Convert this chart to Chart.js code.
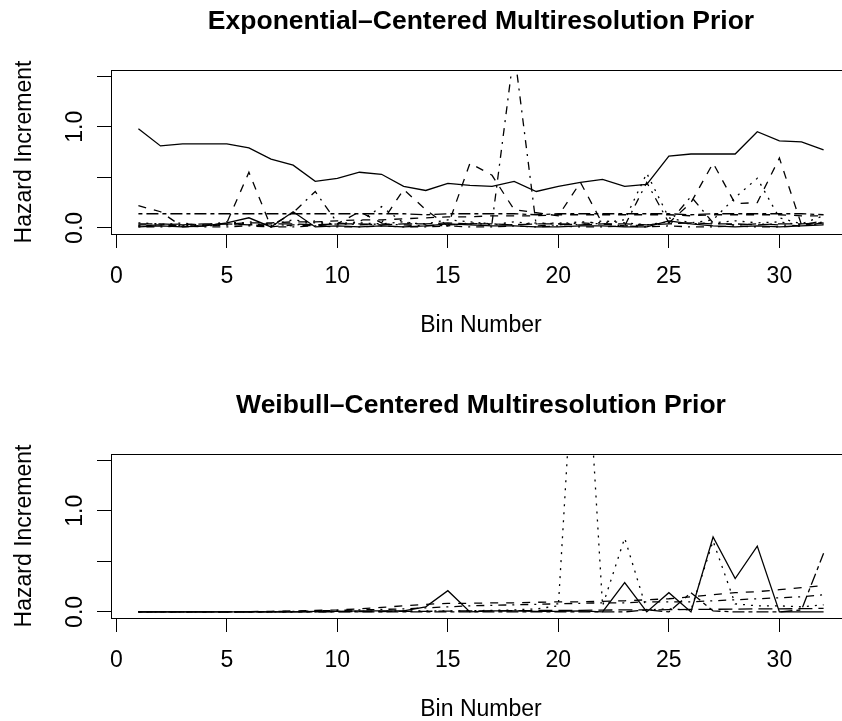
<!DOCTYPE html>
<html>
<head>
<meta charset="utf-8">
<script src="https://cdn.jsdelivr.net/npm/chart.js@4.4.1/dist/chart.umd.min.js"></script>
<style>
    html, body { margin: 0; padding: 0; background: #fff; overflow: hidden; }
    .panel { position: relative; width: 852px; }
    #expPanel { height: 384px; }
    #weibPanel { height: 339px; }
</style>
</head>
<body>
<div class="panel" id="expPanel"><canvas id="expChart"></canvas></div>
<div class="panel" id="weibPanel"><canvas id="weibChart"></canvas></div>
<script>
// Bin numbers along the x axis
const binNumbers = [1, 2, 3, 4, 5, 6, 7, 8, 9, 10, 11, 12, 13, 14, 15, 16,
    17, 18, 19, 20, 21, 22, 23, 24, 25, 26, 27, 28, 29, 30, 31, 32];

const xTickValues = [0, 5, 10, 15, 20, 25, 30];
const yTickValues = [0, 0.5, 1, 1.5];
const yTickLabels = ['0.0', '', '1.0', ''];

// Exponential-centered prior: hazard increment draws per bin
const expSolidHigh = [0.98, 0.81, 0.83, 0.83, 0.83, 0.79, 0.68, 0.62, 0.46, 0.49, 0.55, 0.53, 0.41, 0.37, 0.44, 0.42,
    0.41, 0.46, 0.36, 0.41, 0.45, 0.48, 0.41, 0.43, 0.71, 0.73, 0.73, 0.73, 0.95, 0.86, 0.85, 0.77];
const expDashed = [0.22, 0.16, 0.01, 0.02, 0.05, 0.55, 0.01, 0.03, 0.02, 0.04, 0.16, 0.05, 0.38, 0.18, 0.02, 0.64,
    0.52, 0.18, 0.15, 0.12, 0.45, 0.04, 0.02, 0.03, 0.05, 0.25, 0.64, 0.24, 0.25, 0.69, 0.03, 0.07];
const expDotted = [0.05, 0.04, 0.02, 0.03, 0.06, 0.04, 0.03, 0.08, 0.05, 0.04, 0.06, 0.21, 0.05, 0.04, 0.08, 0.06,
    0.04, 0.03, 0.05, 0.04, 0.06, 0.05, 0.08, 0.54, 0.10, 0.05, 0.08, 0.30, 0.49, 0.10, 0.04, 0.12];
const expDotDash = [0.02, 0.03, 0.02, 0.02, 0.03, 0.03, 0.02, 0.15, 0.36, 0.05, 0.03, 0.04, 0.03, 0.02, 0.03, 0.04,
    0.05, 1.75, 0.02, 0.03, 0.05, 0.04, 0.02, 0.45, 0.05, 0.31, 0.05, 0.03, 0.04, 0.03, 0.02, 0.05];
const expLongDash = [0.04, 0.04, 0.03, 0.04, 0.04, 0.03, 0.04, 0.04, 0.03, 0.04, 0.04, 0.03, 0.04, 0.04, 0.05, 0.04,
    0.04, 0.03, 0.04, 0.04, 0.03, 0.04, 0.04, 0.03, 0.04, 0.05, 0.04, 0.04, 0.03, 0.04, 0.04, 0.05];
const expTwoDash = [0.14, 0.14, 0.14, 0.14, 0.14, 0.14, 0.14, 0.14, 0.14, 0.14, 0.14, 0.14, 0.14, 0.13, 0.14, 0.14,
    0.14, 0.14, 0.13, 0.14, 0.14, 0.14, 0.14, 0.14, 0.14, 0.13, 0.14, 0.14, 0.14, 0.14, 0.14, 0.13];
const expSolidLow = [0.01, 0.02, 0.01, 0.02, 0.05, 0.10, 0.01, 0.16, 0.01, 0.02, 0.01, 0.02, 0.01, 0.02, 0.04, 0.03,
    0.02, 0.02, 0.01, 0.01, 0.02, 0.02, 0.01, 0.01, 0.07, 0.04, 0.02, 0.01, 0.02, 0.01, 0.02, 0.03];
const expDashedFlat = [0.03, 0.03, 0.04, 0.03, 0.04, 0.05, 0.05, 0.06, 0.06, 0.07, 0.08, 0.08, 0.09, 0.10, 0.11, 0.11,
    0.12, 0.12, 0.12, 0.13, 0.13, 0.13, 0.13, 0.13, 0.13, 0.12, 0.13, 0.13, 0.13, 0.13, 0.12, 0.12];
const expDottedLow = [0.02, 0.03, 0.05, 0.02, 0.03, 0.06, 0.04, 0.02, 0.07, 0.03, 0.05, 0.04, 0.06, 0.03, 0.02, 0.05,
    0.03, 0.06, 0.04, 0.05, 0.03, 0.07, 0.05, 0.03, 0.06, 0.04, 0.05, 0.07, 0.05, 0.06, 0.03, 0.04];
const expDotDashLow = [0.01, 0.01, 0.02, 0.01, 0.01, 0.02, 0.01, 0.01, 0.02, 0.01, 0.01, 0.02, 0.01, 0.01, 0.02, 0.01,
    0.01, 0.02, 0.01, 0.02, 0.01, 0.01, 0.02, 0.01, 0.02, 0.01, 0.01, 0.02, 0.01, 0.01, 0.02, 0.06];

// Weibull-centered prior: hazard increment draws per bin
const weibSolid = [0, 0, 0, 0, 0, 0, 0, 0, 0.005, 0.005, 0.01, 0.01, 0.01, 0.05, 0.21, 0,
    0.01, 0.01, 0.005, 0.005, 0.01, 0, 0.29, 0, 0.19, 0, 0.74, 0.33, 0.65, 0, 0, 0];
const weibDashed = [0, 0, 0, 0, 0, 0.003, 0.006, 0.01, 0.015, 0.02, 0.03, 0.045, 0.06, 0.075, 0.085, 0.085,
    0.09, 0.09, 0.095, 0.1, 0.1, 0.105, 0.11, 0.12, 0.13, 0.15, 0.17, 0.19, 0.2, 0.22, 0.24, 0.26];
const weibDotted = [0, 0, 0, 0, 0, 0, 0, 0.002, 0.004, 0.005, 0.006, 0.008, 0.01, 0.01, 0.01, 0.012,
    0.015, 0.02, 0.03, 0.06, 3.7, 0.06, 0.73, 0.02, 0.03, 0.02, 0.70, 0.08, 0.06, 0.06, 0.05, 0.07];
const weibDotDash = [0, 0, 0, 0, 0, 0, 0.003, 0.006, 0.01, 0.015, 0.02, 0.025, 0.03, 0.04, 0.05, 0.06,
    0.065, 0.07, 0.075, 0.08, 0.085, 0.09, 0.09, 0.1, 0.1, 0.1, 0.11, 0.12, 0.13, 0.14, 0.15, 0.17];
const weibLongDash = [0, 0, 0, 0, 0, 0, 0, 0, 0, 0.002, 0.003, 0.004, 0.005, 0.006, 0.008, 0.01,
    0.01, 0.012, 0.014, 0.015, 0.016, 0.018, 0.02, 0.02, 0.022, 0.025, 0.026, 0.028, 0.03, 0.03, 0.032, 0.035];
const weibTwoDash = [0, 0, 0, 0, 0, 0, 0, 0, 0, 0, 0, 0, 0, 0, 0, 0,
    0, 0, 0, 0, 0, 0, 0, 0.02, 0, 0.19, 0.01, 0, 0, 0, 0.02, 0.58];

// R-style line types
const LTY = {
    solid: [],
    dashed: [8, 8],
    dotted: [2, 6],
    dotdash: [2, 6, 8, 6],
    longdash: [14, 6],
    twodash: [4, 4, 12, 4]
};

const FONT = 'Liberation Sans, Arial, Helvetica, sans-serif';

// Draws the title centred over the plot region
const panelTitle = {
    id: 'panelTitle',
    afterDraw(chart, args, opts) {
        const { ctx, chartArea } = chart;
        ctx.save();
        ctx.fillStyle = '#000';
        ctx.font = `bold 26.5px ${FONT}`;
        ctx.textAlign = 'center';
        ctx.textBaseline = 'middle';
        ctx.fillText(opts.text, (chartArea.left + chartArea.right) / 2, 22);
        ctx.restore();
    }
};

// Closed frame round the plot region
const plotFrame = {
    id: 'plotFrame',
    afterDraw(chart) {
        const { ctx, chartArea } = chart;
        ctx.save();
        ctx.strokeStyle = '#000';
        ctx.lineWidth = 1;
        ctx.strokeRect(Math.round(chartArea.left) + 0.5, Math.round(chartArea.top) + 0.5,
            Math.round(chartArea.right - chartArea.left), Math.round(chartArea.bottom - chartArea.top));
        ctx.restore();
    }
};

function buildDatasets(series) {
    return series.map(([values, lty]) => ({
        data: binNumbers.map((b, i) => ({ x: b, y: values[i] })),
        borderColor: '#000',
        borderWidth: 1.3,
        borderDash: LTY[lty],
        pointRadius: 0,
        tension: 0,
        fill: false
    }));
}

function makePanel(canvasId, title, series, bottomPad) {
    const axisFont = { family: FONT, size: 23 };
    return new Chart(document.getElementById(canvasId), {
        type: 'line',
        data: { datasets: buildDatasets(series) },
        plugins: [panelTitle, plotFrame],
        options: {
            animation: false,
            responsive: true,
            maintainAspectRatio: false,
            layout: { padding: { left: 0, right: 1, top: 70, bottom: bottomPad } },
            plugins: {
                legend: { display: false },
                tooltip: { enabled: false },
                panelTitle: { text: title }
            },
            scales: {
                x: {
                    type: 'linear',
                    min: -0.24,
                    max: 33.24,
                    afterBuildTicks: s => { s.ticks = xTickValues.map(v => ({ value: v })); },
                    afterFit: s => { s.height = 105; },
                    grid: { drawOnChartArea: false, drawTicks: true, tickLength: 14, color: '#000', lineWidth: 1 },
                    border: { display: true, color: '#000', width: 1 },
                    ticks: { color: '#000', font: axisFont, padding: 15, maxRotation: 0, autoSkip: false },
                    title: { display: true, text: 'Bin Number', color: '#000', font: axisFont, padding: { top: 0, bottom: 0 } }
                },
                y: {
                    min: -0.06,
                    max: 1.56,
                    afterBuildTicks: s => { s.ticks = yTickValues.map(v => ({ value: v })); },
                    afterFit: s => { s.width = 111; },
                    grid: { drawOnChartArea: false, drawTicks: true, tickLength: 14, color: '#000', lineWidth: 1 },
                    border: { display: true, color: '#000', width: 1 },
                    ticks: {
                        color: '#000', font: axisFont, padding: 5, crossAlign: 'center',
                        minRotation: 90, maxRotation: 90, autoSkip: false,
                        callback: (v, i) => yTickLabels[i]
                    },
                    title: { display: true, text: 'Hazard Increment', color: '#000', font: axisFont, padding: { top: 11, bottom: 0 } }
                }
            }
        }
    });
}

makePanel('expChart', 'Exponential\u2013Centered Multiresolution Prior', [
    [expSolidHigh, 'solid'], [expDashed, 'dashed'], [expDotted, 'dotted'],
    [expDotDash, 'dotdash'], [expLongDash, 'longdash'], [expTwoDash, 'twodash'],
    [expSolidLow, 'solid'], [expDashedFlat, 'dashed'], [expDottedLow, 'dotted'],
    [expDotDashLow, 'dotdash']
], 45);

makePanel('weibChart', 'Weibull\u2013Centered Multiresolution Prior', [
    [weibSolid, 'solid'], [weibDashed, 'dashed'], [weibDotted, 'dotted'],
    [weibDotDash, 'dotdash'], [weibLongDash, 'longdash'], [weibTwoDash, 'twodash']
], 0);
</script>
</body>
</html>
